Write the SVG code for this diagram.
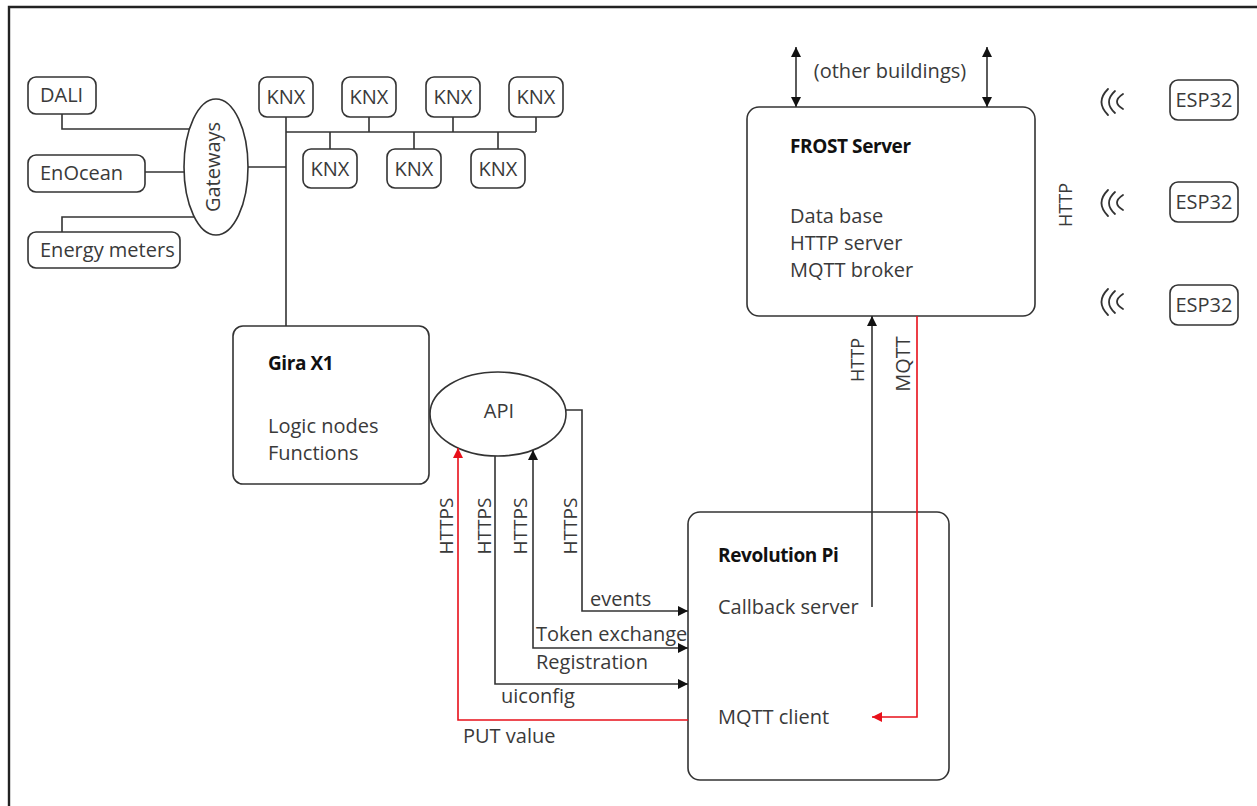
<svg xmlns="http://www.w3.org/2000/svg" width="1257" height="806" viewBox="0 0 1257 806">
<style>
  .box{fill:#fff;stroke:#333;stroke-width:1.6}
  .t{font-family:"Open Sans","Noto Sans",sans-serif;font-size:20px;fill:#3a3a3a}
  .b{font-family:"Open Sans","Noto Sans",sans-serif;font-size:19px;font-weight:bold;fill:#111;letter-spacing:-0.4px}
  .m{text-anchor:middle}
  .ln{fill:none;stroke:#333;stroke-width:1.6}
  .red{fill:none;stroke:#e8101a;stroke-width:1.6}
  .wifi{fill:none;stroke:#333;stroke-width:1.8;stroke-linecap:round}
</style>
<defs>
  <marker id="ab" viewBox="0 0 10 10" refX="10" refY="5" markerWidth="12" markerHeight="10" markerUnits="userSpaceOnUse" orient="auto-start-reverse">
    <path d="M0,0 L10,5 L0,10 z" fill="#111"/>
  </marker>
  <marker id="ar" viewBox="0 0 10 10" refX="10" refY="5" markerWidth="12" markerHeight="10" markerUnits="userSpaceOnUse" orient="auto-start-reverse">
    <path d="M0,0 L10,5 L0,10 z" fill="#e8101a"/>
  </marker>
</defs>
<rect width="1257" height="806" fill="#fff"/>
<path d="M9,806 V7 H1257" fill="none" stroke="#222" stroke-width="2.4"/>

<g id="dali"><rect class="box" x="28" y="77" width="68" height="37" rx="8"/><text class="t" x="40" y="102">DALI</text></g>
<g id="enocean"><rect class="box" x="28" y="155" width="117" height="37" rx="8"/><text class="t" x="40" y="180">EnOcean</text></g>
<g id="energy-meters"><rect class="box" x="28" y="232" width="152" height="36" rx="8"/><text class="t" x="40" y="257">Energy meters</text></g>
<g id="gateways"><ellipse class="box" cx="216" cy="167" rx="32" ry="68"/><text class="t m" transform="translate(220,167) rotate(-90)">Gateways</text></g>

<g id="knx1"><rect class="box" x="259" y="77" width="54" height="40" rx="8"/><text class="t m" x="286" y="104">KNX</text></g>
<g id="knx2"><rect class="box" x="342" y="77" width="54" height="40" rx="8"/><text class="t m" x="369" y="104">KNX</text></g>
<g id="knx3"><rect class="box" x="426" y="77" width="54" height="40" rx="8"/><text class="t m" x="453" y="104">KNX</text></g>
<g id="knx4"><rect class="box" x="509" y="77" width="54" height="40" rx="8"/><text class="t m" x="536" y="104">KNX</text></g>
<g id="knx5"><rect class="box" x="303" y="149" width="54" height="39" rx="8"/><text class="t m" x="330" y="176">KNX</text></g>
<g id="knx6"><rect class="box" x="387" y="149" width="54" height="39" rx="8"/><text class="t m" x="414" y="176">KNX</text></g>
<g id="knx7"><rect class="box" x="471" y="149" width="54" height="39" rx="8"/><text class="t m" x="498" y="176">KNX</text></g>

<g id="gira-x1">
  <rect class="box" x="233" y="326" width="196" height="158" rx="10"/>
  <text class="b" x="268" y="370">Gira X1</text>
  <text class="t" x="268" y="433">Logic nodes</text>
  <text class="t" x="268" y="460">Functions</text>
</g>
<g id="api"><ellipse class="box" cx="498" cy="414" rx="68" ry="42"/><text class="t m" x="499" y="418">API</text></g>

<g id="frost-server">
  <rect class="box" x="747" y="107" width="288" height="209" rx="12"/>
  <text class="b" x="790" y="153">FROST Server</text>
  <text class="t" x="790" y="223">Data base</text>
  <text class="t" x="790" y="250">HTTP server</text>
  <text class="t" x="790" y="277">MQTT broker</text>
</g>

<g id="revolution-pi">
  <rect class="box" x="688" y="512" width="261" height="268" rx="12"/>
  <text class="b" x="718" y="562">Revolution Pi</text>
  <text class="t" x="718" y="614">Callback server</text>
  <text class="t" x="718" y="724">MQTT client</text>
</g>

<g id="esp32-1">
  <path class="wifi" d="M1108,89 Q1095,102 1108,115 M1115,91 Q1103,102 1115,113 M1123,94 Q1111,102 1123,109"/>
  <rect class="box" x="1170" y="80" width="68" height="40" rx="8"/><text class="t m" x="1204" y="107">ESP32</text>
</g>
<g id="esp32-2">
  <path class="wifi" d="M1108,190 Q1095,203 1108,216 M1115,192 Q1103,203 1115,214 M1123,195 Q1111,203 1123,210"/>
  <rect class="box" x="1170" y="182" width="68" height="40" rx="8"/><text class="t m" x="1204" y="209">ESP32</text>
</g>
<g id="esp32-3">
  <path class="wifi" d="M1108,289 Q1095,302 1108,315 M1115,291 Q1103,302 1115,313 M1123,294 Q1111,302 1123,309"/>
  <rect class="box" x="1170" y="285" width="68" height="40" rx="8"/><text class="t m" x="1204" y="312">ESP32</text>
</g>

<g id="connectors">
  <path class="ln" d="M62,114 V129 H190"/>
  <path class="ln" d="M145,172 H184"/>
  <path class="ln" d="M62,232 V217 H194"/>
  <path class="ln" d="M248,167 H286"/>
  <path class="ln" d="M286,117 V326"/>
  <path class="ln" d="M286,132 H536"/>
  <path class="ln" d="M369,117 V132 M453,117 V132 M536,117 V132"/>
  <path class="ln" d="M330,132 V149 M414,132 V149 M498,132 V149"/>
  <path class="ln" d="M796,47 V107" marker-start="url(#ab)" marker-end="url(#ab)"/>
  <path class="ln" d="M987,47 V107" marker-start="url(#ab)" marker-end="url(#ab)"/>
  <path class="ln" d="M566,410 H582 V611 H688" marker-end="url(#ab)"/>
  <path class="ln" d="M533,450 V648 H688" marker-start="url(#ab)" marker-end="url(#ab)"/>
  <path class="ln" d="M495,456 V684 H688" marker-end="url(#ab)"/>
  <path class="red" d="M688,720 H458 V448" marker-end="url(#ar)"/>
  <path class="ln" d="M872,607 V316" marker-end="url(#ab)"/>
  <path class="red" d="M917,316 V717 H872" marker-end="url(#ar)"/>
  <text class="t" transform="translate(453,526) rotate(-90)" text-anchor="middle" style="font-size:19px">HTTPS</text>
  <text class="t" transform="translate(491,526) rotate(-90)" text-anchor="middle" style="font-size:19px">HTTPS</text>
  <text class="t" transform="translate(527,526) rotate(-90)" text-anchor="middle" style="font-size:19px">HTTPS</text>
  <text class="t" transform="translate(577,526) rotate(-90)" text-anchor="middle" style="font-size:19px">HTTPS</text>
  <text class="t" x="590" y="606">events</text>
  <text class="t" x="536" y="641">Token exchange</text>
  <text class="t" x="536" y="669">Registration</text>
  <text class="t" x="501" y="703">uiconfig</text>
  <text class="t" x="463" y="743">PUT value</text>
  <text class="t" transform="translate(864,360) rotate(-90)" text-anchor="middle" style="font-size:18px">HTTP</text>
  <text class="t" transform="translate(910,364) rotate(-90)" text-anchor="middle">MQTT</text>
  <text class="t" transform="translate(1072,205) rotate(-90)" text-anchor="middle" style="font-size:18px">HTTP</text>
  <text class="t m" x="890" y="78">(other buildings)</text>
</g>
</svg>
